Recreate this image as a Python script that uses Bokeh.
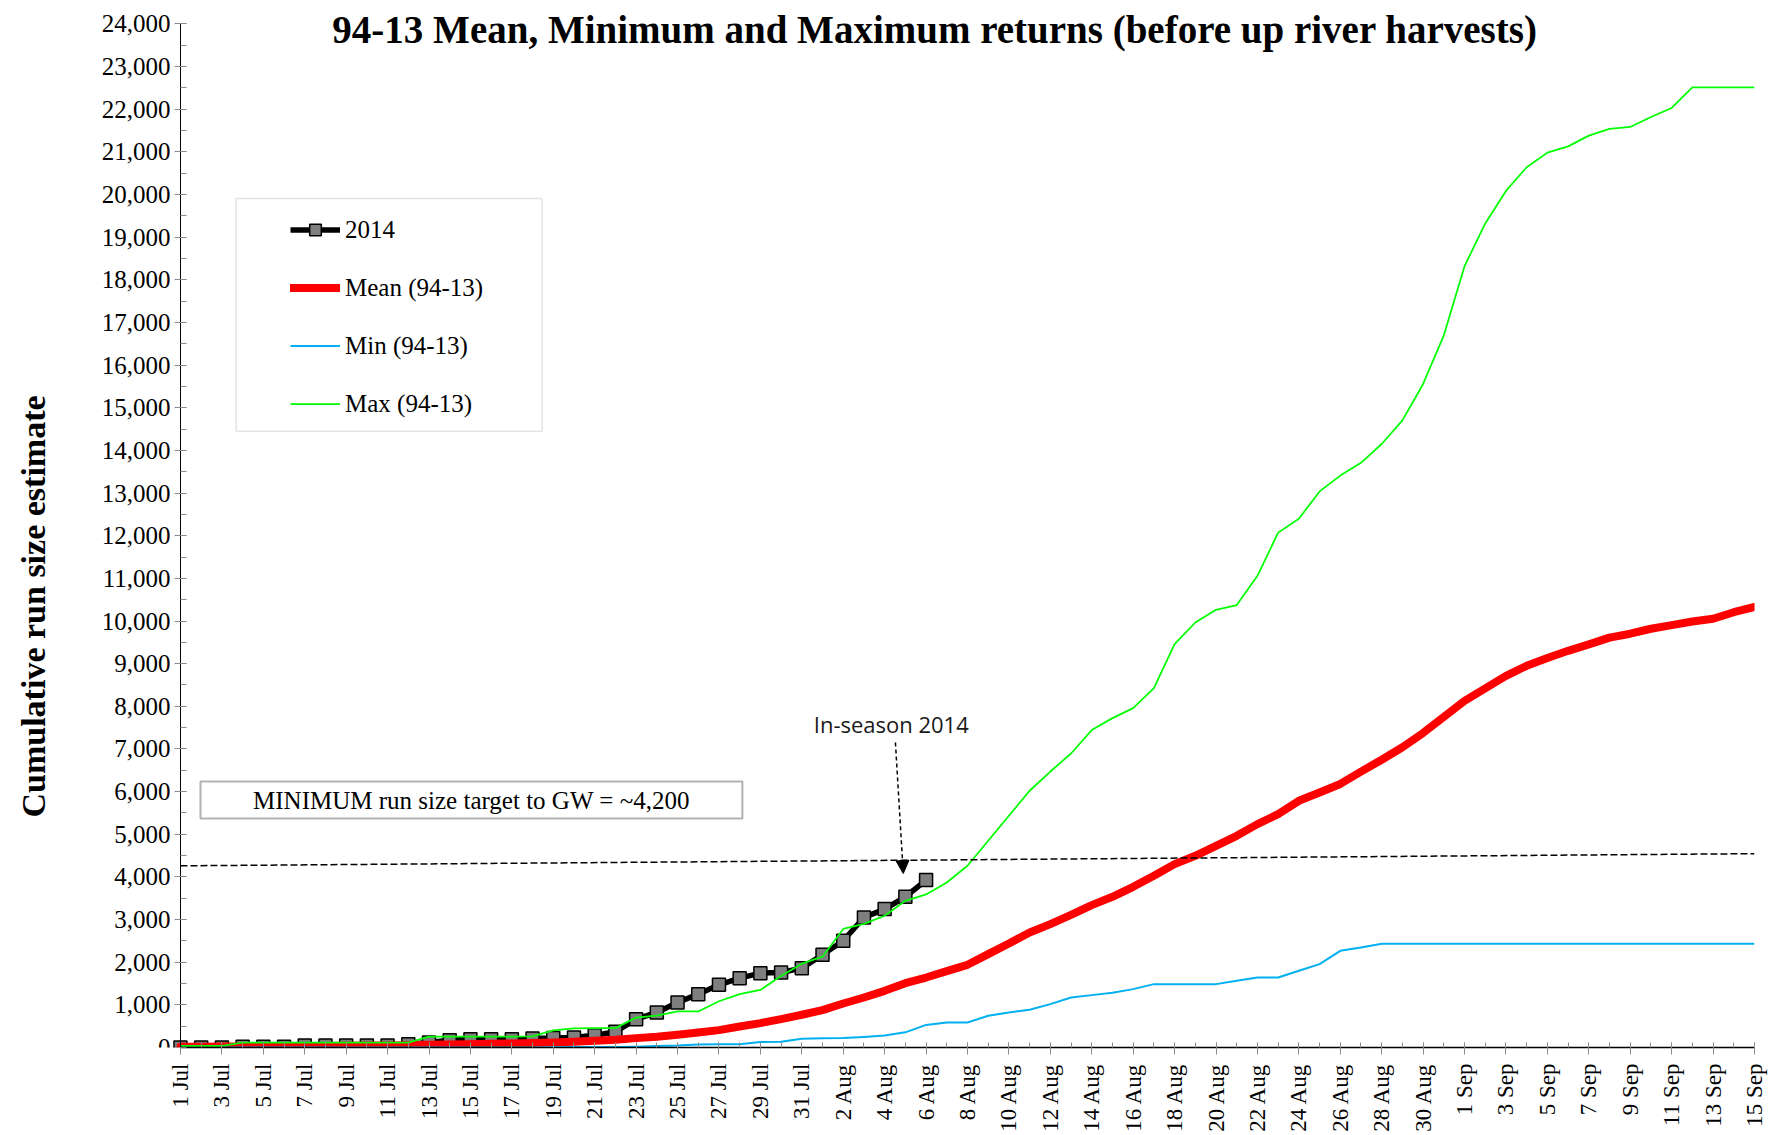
import math
from bokeh.plotting import figure
from bokeh.models import (Range1d, FixedTicker, SingleIntervalTicker, NumeralTickFormatter,
                          Legend, LegendItem, Label, BoxAnnotation, Arrow, NormalHead,
                          ColumnDataSource)
from bokeh.embed import file_html
from bokeh.resources import INLINE

# ---------------- data ----------------
months = [("Jul", 31), ("Aug", 31), ("Sep", 15)]
dates = [f"{d} {m}" for m, n in months for d in range(1, n + 1)]
day_idx = list(range(len(dates)))

run_2014 = [0, 0, 0, 15, 15, 15, 45, 45, 45, 45,
            45, 75, 115, 170, 195, 195, 195, 210, 225, 235,
            285, 368, 665, 821, 1055, 1251, 1470, 1626, 1743, 1759,
            1861, 2174, 2502, 3048, 3245, 3533, 3925]

mean_9413 = [20, 20, 22, 25, 28, 30, 33, 36, 40, 44,
             48, 55, 62, 70, 78, 86, 95, 105, 115, 134,
             157, 180, 220, 251, 298, 352, 408, 492, 572, 665,
             767, 876, 1032, 1172, 1329, 1509, 1641, 1790, 1939, 2190,
             2439, 2697, 2893, 3111, 3339, 3533, 3768, 4026, 4300, 4495,
             4729, 4964, 5238, 5472, 5784, 5979, 6180, 6470, 6748, 7041,
             7376, 7751, 8129, 8422, 8715, 8950, 9135, 9301, 9451, 9611,
             9702, 9819, 9904, 9988, 10054, 10206, 10331]

min_9413 = [0, 0, 0, 0, 0, 0, 0, 0, 0, 0,
            0, 0, 0, 0, 0, 0, 0, 0, 5, 10,
            10, 10, 20, 35, 45, 70, 78, 78, 130, 134,
            205, 215, 220, 245, 280, 355, 530, 586, 586, 743,
            821, 884, 1017, 1172, 1228, 1282, 1369, 1486, 1486, 1486,
            1486, 1564, 1641, 1641, 1798, 1955, 2267, 2345, 2434, 2434,
            2434, 2434, 2434, 2434, 2434, 2434, 2434, 2434, 2434, 2434,
            2434, 2434, 2434, 2434, 2434, 2434, 2434]

max_9413 = [40, 40, 40, 115, 115, 115, 115, 115, 115, 115,
            115, 115, 255, 255, 255, 255, 255, 260, 400, 450,
            455, 455, 700, 745, 845, 845, 1085, 1250, 1350, 1675,
            1965, 2130, 2780, 2900, 3090, 3440, 3590, 3870, 4262, 4849,
            5433, 6020, 6471, 6893, 7442, 7723, 7958, 8427, 9458, 9965,
            10263, 10373, 11060, 12073, 12399, 13039, 13410, 13710, 14151, 14706,
            15559, 16698, 18321, 19323, 20085, 20641, 20983, 21130, 21381, 21538,
            21585, 21817, 22031, 22514, 22514, 22514, 22514]

target_x = [0, 76]
target_y = [4260, 4545]

SERIF = "Liberation Serif"

# ---------------- figure ----------------
# frame covers the whole canvas except the bottom (x labels) and a thin right strip;
# the y axis is pinned at day 0 so texts to its left stay inside the frame.
p = figure(width=1771, height=1135,
           x_range=Range1d(-8.69, 76), y_range=Range1d(0, 24550),
           output_backend="svg", toolbar_location=None,
           min_border_left=0, min_border_right=17,
           min_border_top=0, min_border_bottom=88,
           background_fill_color="white", border_fill_color="white",
           outline_line_color=None)
p.grid.visible = False

# x axis
xa = p.xaxis[0]
xa.bounds = (0, 76)
xa.ticker = FixedTicker(ticks=day_idx[::2], minor_ticks=day_idx)
xa.major_label_overrides = {i: dates[i] for i in day_idx[::2]}
xa.major_label_orientation = math.pi / 2
xa.major_label_text_font = SERIF
xa.major_label_text_font_size = "23px"
xa.major_label_text_color = "black"
xa.major_label_standoff = 9
xa.axis_line_color = "black"
xa.axis_line_width = 1.5
xa.major_tick_line_color = "#8c8c8c"
xa.major_tick_in = 5
xa.major_tick_out = 7
xa.minor_tick_line_color = "#8c8c8c"
xa.minor_tick_in = 5
xa.minor_tick_out = 0

# y axis
ya = p.yaxis[0]
ya.fixed_location = 0
ya.bounds = (0, 24000)
ya.ticker = SingleIntervalTicker(interval=1000, num_minor_ticks=2)
ya.formatter = NumeralTickFormatter(format="0,0")
ya.major_label_text_font = SERIF
ya.major_label_text_font_size = "25px"
ya.major_label_text_color = "black"
ya.major_label_standoff = 4
ya.axis_line_color = "black"
ya.axis_line_width = 1
ya.major_tick_line_color = "#8c8c8c"
ya.major_tick_in = 6
ya.major_tick_out = 6
ya.minor_tick_line_color = "#8c8c8c"
ya.minor_tick_in = 6
ya.minor_tick_out = 0

# ---------------- series ----------------
src = ColumnDataSource(dict(x=day_idx, mean=mean_9413, mn=min_9413, mx=max_9413))
src14 = ColumnDataSource(dict(x=day_idx[:len(run_2014)], y=run_2014))

r14_line = p.line("x", "y", source=src14, line_color="black", line_width=5.5, line_join="round")
r14_pts = p.scatter("x", "y", source=src14, marker="square", size=13,
                    fill_color="#7f7f7f", line_color="black", line_width=1.5)
r_mean = p.line("x", "mean", source=src, line_color="#ff0000", line_width=8,
                line_join="round", line_cap="round")
r_min = p.line("x", "mn", source=src, line_color="#00b0f0", line_width=2, line_join="round")
r_max = p.line("x", "mx", source=src, line_color="#00ff00", line_width=1.75, line_join="round")

p.line(target_x, target_y, line_color="black", line_width=1.5, line_dash="7 3")

# ---------------- legend ----------------
legend_box = BoxAnnotation(left=2.689, right=17.46, bottom=14451, top=19907,
                           fill_color="white", fill_alpha=1,
                           line_color="#a6a6a6", line_width=1.5)
p.add_layout(legend_box)

legend = Legend(items=[
    LegendItem(label="2014", renderers=[r14_line, r14_pts]),
    LegendItem(label="Mean (94-13)", renderers=[r_mean]),
    LegendItem(label="Min (94-13)", renderers=[r_min]),
    LegendItem(label="Max (94-13)", renderers=[r_max]),
], location=(285, 624), padding=5, spacing=29, margin=0,
    glyph_width=50, glyph_height=29, label_height=29, label_standoff=5,
    label_text_font=SERIF, label_text_font_size="25px", label_text_color="black",
    border_line_alpha=0, background_fill_alpha=0)
p.add_layout(legend)

# ---------------- annotations ----------------
min_box = BoxAnnotation(left=0.966, right=27.13, bottom=5370, top=6237,
                        fill_color="white", fill_alpha=1,
                        line_color="black", line_width=2)
p.add_layout(min_box)
p.add_layout(Label(x=14.05, y=5803, text="MINIMUM run size target to GW = ~4,200",
                   text_align="center", text_baseline="middle",
                   text_font=SERIF, text_font_size="25px", text_color="black"))

p.add_layout(Label(x=34.32, y=7590, text="In-season 2014",
                   text_align="center", text_baseline="alphabetic",
                   text_font="Open Sans", text_font_size="22px", text_color="#1a1a1a"))

p.add_layout(Arrow(end=NormalHead(size=13, fill_color="black", line_color="black", line_width=1),
                   x_start=34.52, y_start=7152, x_end=34.90, y_end=4080,
                   line_color="black", line_width=1.5, line_dash="4 3"))

p.add_layout(Label(x=36.43, y=23870,
                   text="94-13 Mean, Minimum and Maximum returns (before up river harvests)",
                   text_align="center", text_baseline="alphabetic",
                   text_font=SERIF, text_font_size="39px", text_font_style="bold",
                   text_color="black"))

p.add_layout(Label(x=-7.10, y=10341, text="Cumulative run size estimate",
                   angle=math.pi / 2, text_align="center", text_baseline="middle",
                   text_font=SERIF, text_font_size="34px", text_font_style="bold",
                   text_color="black"))

open("out.html", "w").write(file_html(p, INLINE))
